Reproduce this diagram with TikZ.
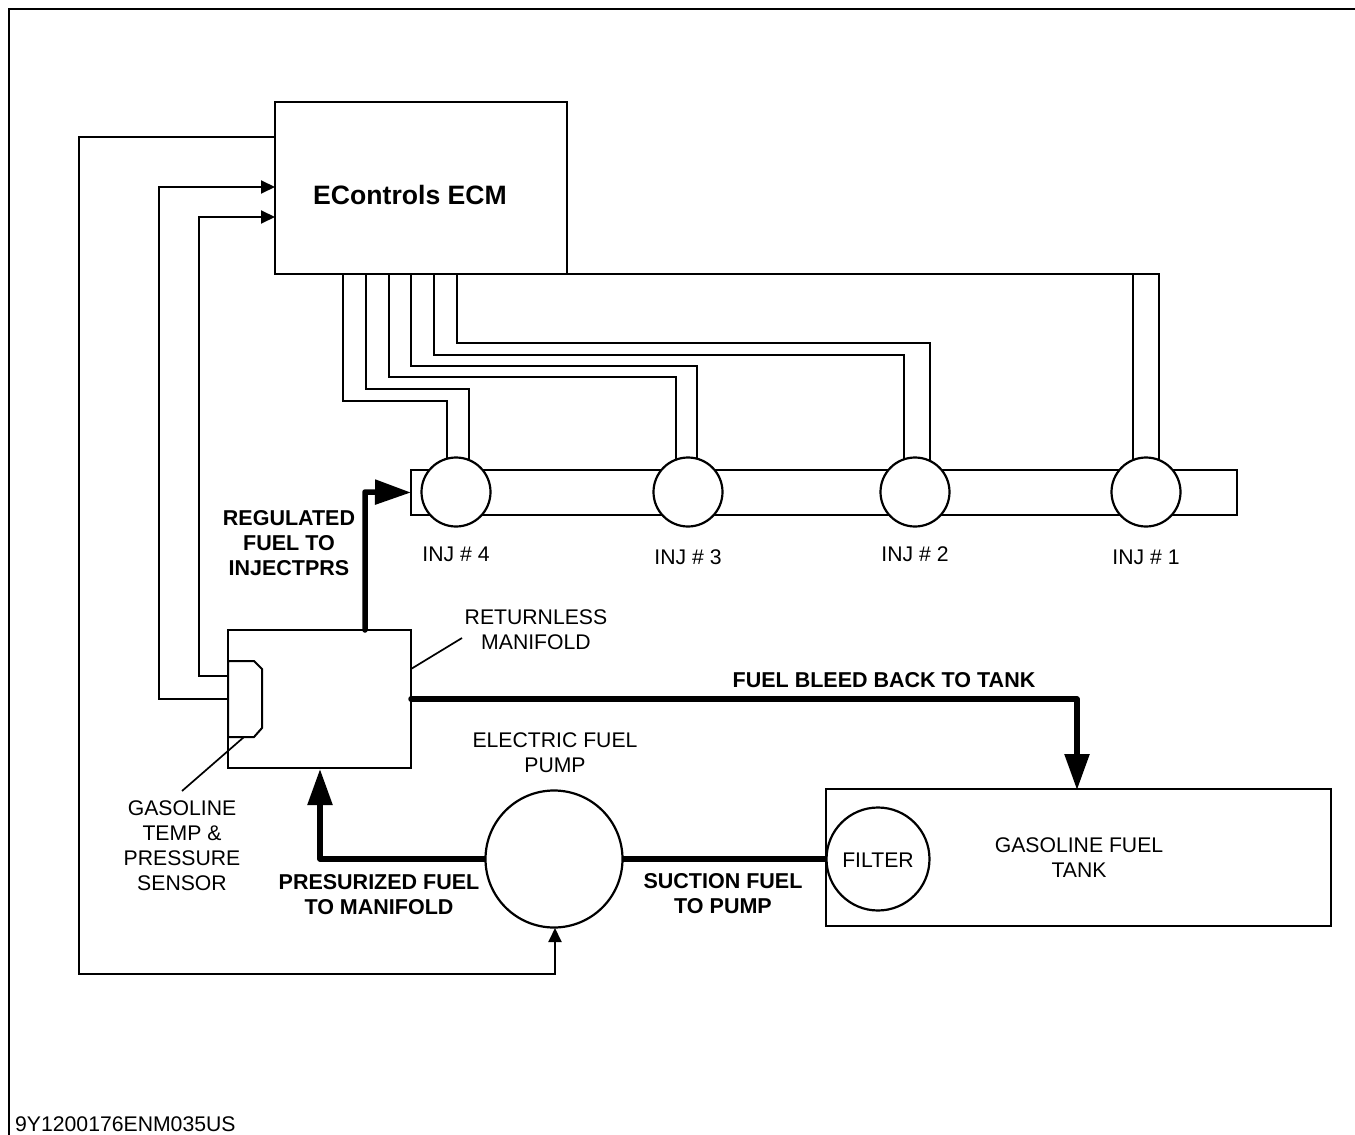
\documentclass[tikz,border=0pt]{standalone}
\usepackage{fontspec}
\setmainfont{Liberation Sans}
\usetikzlibrary{arrows.meta,backgrounds}
\tikzset{
  wire/.style={line width=2pt,draw=black,line join=miter},
  fuelline/.style={line width=5.5pt,draw=black,line cap=round,line join=round},
  smallarrow/.style={-{Triangle[length=14pt,width=13pt]}},
  bigarrow/.style={-{Triangle[length=36pt,width=24pt]}},
  boxn/.style={draw=black,line width=2pt,fill=white,inner sep=0pt,outer sep=0pt,rectangle},
  circ/.style={draw=black,line width=2.2pt,fill=white,circle,inner sep=0pt,outer sep=0pt},
  lab/.style={align=center,font=\fontsize{21.2}{25}\selectfont,inner sep=0pt},
  blab/.style={align=center,font=\fontsize{21.5}{25}\selectfont\bfseries,inner sep=0pt}
}
\begin{document}
\begin{tikzpicture}[x=1pt,y=-1pt]
\useasboundingbox (0,0) rectangle (1355,1135);
\coordinate (fa) at (9,1135); \coordinate (fb) at (9,9); \coordinate (fc) at (1355,9);
\draw[line width=2.6pt] (fa) -- (fb) -- (fc);
% rail
\node[boxn,minimum width=826pt,minimum height=45pt,anchor=north west] (rail) at (411,470) {};
% ECM
\node[boxn,minimum width=292pt,minimum height=172pt,anchor=north west] (ecm) at (275,102) {};
\node[font=\fontsize{26.6}{32}\selectfont\bfseries,inner sep=0pt] (ecmt) at (410,194.5) {EControls ECM};
% injectors
\node[circ,minimum size=69pt] (inj4) at (456,492) {};
\node[circ,minimum size=69pt] (inj3) at (688,492) {};
\node[circ,minimum size=69pt] (inj2) at (915,492) {};
\node[circ,minimum size=69pt] (inj1) at (1146,492) {};
% manifold
\node[boxn,minimum width=183pt,minimum height=138pt,anchor=north west] (mani) at (228,630) {};
\draw[wire,fill=white] (228,661) -- (254,661) -- (262,669) -- (262,728) -- (254,737) -- (228,737) -- cycle;
% pump, tank
\node[circ,minimum size=137pt] (pump) at (554,859) {};
\node[boxn,minimum width=505pt,minimum height=137pt,anchor=north west] (tank) at (826,789) {};
\node[circ,minimum size=103pt] (filter) at (878,859) {};
\coordinate (s1) at (228,676); \coordinate (s2) at (228,699);
\coordinate (e1) at (275,217); \coordinate (e2) at (275,187); \coordinate (e3) at (275,137);
\draw[wire,smallarrow] (s1) -- (199,676) -- (199,217) -- (e1);
\draw[wire,smallarrow] (s2) -- (159,699) -- (159,187) -- (e2);
\coordinate (pb) at (555,928);
\draw[wire,smallarrow] (e3) -- (79,137) -- (79,974) -- (555,974) -- (pb);
\begin{pgfonlayer}{background}
% injector wires
\coordinate (w1) at (343,274); \coordinate (w2) at (366,274); \coordinate (w3) at (389,274);
\coordinate (w4) at (411,274); \coordinate (w5) at (434,274); \coordinate (w6) at (457,274);
\coordinate (i4a) at (447,465); \coordinate (i4b) at (469,465);
\coordinate (i3a) at (676,465); \coordinate (i3b) at (697,465);
\coordinate (i2a) at (904,465); \coordinate (i2b) at (930,465);
\coordinate (i1a) at (1133,465); \coordinate (i1b) at (1159,465);
\draw[wire] (w1) |- (447,401) -- (i4a);
\draw[wire] (w2) |- (469,389) -- (i4b);
\draw[wire] (w3) |- (676,377) -- (i3a);
\draw[wire] (w4) |- (697,366) -- (i3b);
\draw[wire] (w5) |- (904,355) -- (i2a);
\draw[wire] (w6) |- (930,343) -- (i2b);
\draw[wire] (ecm.south east) -- (1159,274) -- (i1b);
\draw[wire] (1133,274) -- (i1a);
% fuel lines into the pump
\draw[fuelline] (filter.west) -- (pump.east);
\coordinate (mb) at (320,769);
\draw[fuelline,bigarrow,line cap=butt] (pump.west) -- (320,859) -- (mb);
\end{pgfonlayer}
\coordinate (mt) at (365,630); \coordinate (mr) at (411,699); \coordinate (tt) at (1077,790);
\draw[fuelline,bigarrow] (mt) -- (365,492) -- (rail.west);
\draw[fuelline,bigarrow] (mr) -- (1077,699) -- (tt);
% leaders
\coordinate (la) at (411,669); \coordinate (ll1) at (462,638);
\coordinate (lb) at (244,737); \coordinate (ll2) at (182,791);
\draw[line width=1.7pt] (la) -- (ll1);
\draw[line width=1.7pt] (lb) -- (ll2);
% labels
\node[lab] (l4) at (456,554) {INJ \# 4};
\node[lab] (l3) at (688,557) {INJ \# 3};
\node[lab] (l2) at (915,554) {INJ \# 2};
\node[lab] (l1) at (1146,557) {INJ \# 1};
\node[blab] (reg) at (289,543) {REGULATED\\FUEL TO\\INJECTPRS};
\node[lab] (ret) at (536,630) {RETURNLESS\\MANIFOLD};
\node[blab] (bleed) at (884,680) {FUEL BLEED BACK TO TANK};
\node[lab] (ep) at (555,752.5) {ELECTRIC FUEL\\PUMP};
\node[lab] (gt) at (182,845.5) {GASOLINE\\TEMP \&\\PRESSURE\\SENSOR};
\node[blab] (pres) at (379,894.5) {PRESURIZED FUEL\\TO MANIFOLD};
\node[blab] (suc) at (723,893.5) {SUCTION FUEL\\TO PUMP};
\node[lab] (ft) at (878,860) {FILTER};
\node[lab] (gft) at (1079,858) {GASOLINE FUEL\\TANK};
\node[font=\fontsize{21.2}{25}\selectfont,inner sep=0pt,anchor=base west] (code) at (15,1131) {9Y1200176ENM035US};
\end{tikzpicture}
\end{document}
